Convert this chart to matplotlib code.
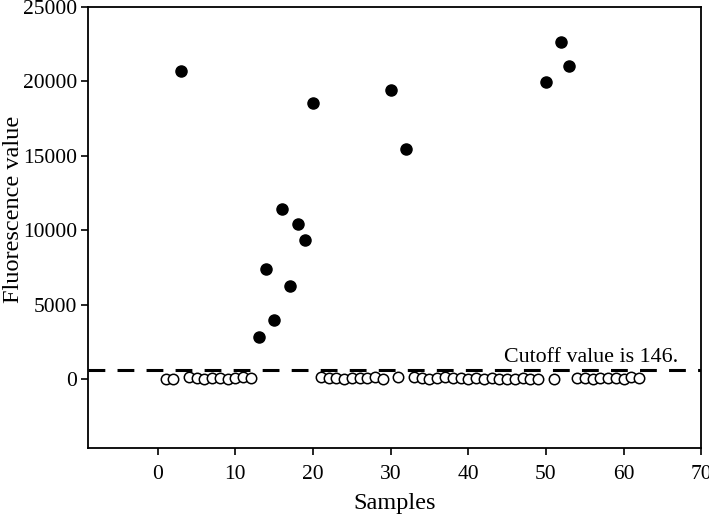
import numpy as np
import matplotlib.pyplot as plt

# positive samples (filled)
pos_x = [3, 13, 14, 15, 16, 17, 18, 19, 20, 30, 32, 50, 52, 53]
pos_y = [20700, 2850, 7400, 4000, 11400, 6280, 10450, 9350, 18550, 19400, 15450, 19950, 22650, 21050]

# negative samples (open)
neg_x = [1, 2, 4, 5, 6, 7, 8, 9, 10, 11, 12,
         21, 22, 23, 24, 25, 26, 27, 28, 29, 31,
         33, 34, 35, 36, 37, 38, 39, 40, 41, 42, 43, 44, 45, 46, 47, 48, 49, 51,
         54, 55, 56, 57, 58, 59, 60, 61, 62]
neg_y = [40, 30, 180, 60, 40, 70, 60, 50, 120, 160, 60,
         130, 60, 110, 50, 60, 70, 120, 150, 40, 180,
         150, 60, 40, 80, 140, 110, 60, 40, 60, 40, 90, 50, 40, 50, 60, 40, 30, 40,
         80, 60, 40, 120, 70, 60, 40, 130, 60]

cutoff = 600
xticks = [0, 10, 20, 30, 40, 50, 60, 70]
yticks = [0, 5000, 10000, 15000, 20000, 25000]

plt.rcParams['font.family'] = ['Liberation Serif', 'DejaVu Serif']

fig = plt.figure(figsize=(7.09, 5.22), dpi=100)
ax = fig.add_axes([0.124, 0.142, 0.865, 0.845])

ax.plot(pos_x, pos_y, 'o', color='black', markersize=8, linestyle='none')
ax.plot(neg_x, neg_y, 'o', markerfacecolor='white', markeredgecolor='black',
        markeredgewidth=1.1, markersize=7.5, linestyle='none')

ax.axhline(cutoff, color='black', linewidth=2.2, dashes=(5.5, 4))
ax.text(67, cutoff + 250, 'Cutoff value is 146.', ha='right', va='bottom', fontsize=15.8)

ax.set_xlim(-9, 70)
ax.set_ylim(-4600, 25000)
ax.set_xticks(xticks)
ax.set_yticks(yticks)
ax.tick_params(axis='both', direction='out', length=5, width=1.2, labelsize=15.5)
ax.tick_params(axis='x', pad=7)
ax.tick_params(axis='y', pad=3)
for s in ax.spines.values():
    s.set_linewidth(1.3)

ax.set_xlabel('Samples', fontsize=17.5, labelpad=7)
ax.set_ylabel('Fluorescence value', fontsize=17.5)
ax.yaxis.set_label_coords(-0.104, 0.54)

fig.savefig('out.png', dpi=100)
